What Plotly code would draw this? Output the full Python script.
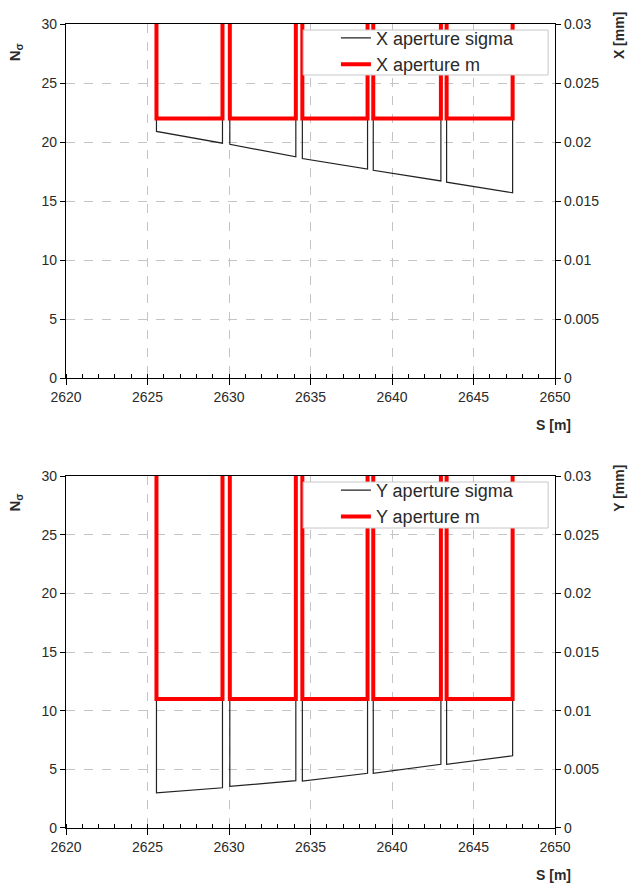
import plotly.graph_objects as go

# ---------------- data ----------------
s_start = [2625.55, 2630.05, 2634.5, 2638.85, 2643.35]
s_end = [2629.6, 2634.1, 2638.5, 2643.0, 2647.4]

x_sigma_start = [20.9, 19.8, 18.6, 17.6, 16.6]
x_sigma_end = [19.9, 18.75, 17.7, 16.7, 15.7]
x_aperture_m = [0.022, 0.022, 0.022, 0.022, 0.022]

y_sigma_start = [3.0, 3.55, 4.0, 4.66, 5.43]
y_sigma_end = [3.43, 4.03, 4.66, 5.43, 6.16]
y_aperture_m = [0.011, 0.011, 0.011, 0.011, 0.011]

sigma_offscale = 40      # value beyond the plotted range between elements
m_offscale = 0.04

x_ticks = [2620, 2625, 2630, 2635, 2640, 2645, 2650]


def seg_path(starts, ends, v0, v1, top):
    xs, ys = [], []
    for a, b, c, d in zip(starts, ends, v0, v1):
        xs += [a, a, b, b]
        ys += [top, c, d, top]
    return xs, ys


FONT = "Liberation Sans, Arial, sans-serif"
TXT = "#2a2a2a"
GRID = "#c4c4c4"

fig = go.Figure()

# top panel
xs, ys = seg_path(s_start, s_end, x_sigma_start, x_sigma_end, sigma_offscale)
fig.add_trace(go.Scatter(x=xs, y=ys, mode="lines", name="X aperture sigma",
                         line=dict(color="#222222", width=1.2),
                         xaxis="x", yaxis="y", legend="legend"))
xs, ys = seg_path(s_start, s_end, x_aperture_m, x_aperture_m, m_offscale)
fig.add_trace(go.Scatter(x=xs, y=ys, mode="lines", name="X aperture m",
                         line=dict(color="#ff0000", width=4),
                         xaxis="x", yaxis="y2", legend="legend"))

# bottom panel
xs, ys = seg_path(s_start, s_end, y_sigma_start, y_sigma_end, sigma_offscale)
fig.add_trace(go.Scatter(x=xs, y=ys, mode="lines", name="Y aperture sigma",
                         line=dict(color="#222222", width=1.2),
                         xaxis="x2", yaxis="y3", legend="legend2"))
xs, ys = seg_path(s_start, s_end, y_aperture_m, y_aperture_m, m_offscale)
fig.add_trace(go.Scatter(x=xs, y=ys, mode="lines", name="Y aperture m",
                         line=dict(color="#ff0000", width=4),
                         xaxis="x2", yaxis="y4", legend="legend2"))

top_dom = [0.5597, 1.0]
bot_dom = [0.0, 0.4378]

xcommon = dict(range=[2620, 2650], tickvals=x_ticks, showline=True, linecolor="black",
               linewidth=1.3, mirror=True, ticks="outside", ticklen=6, tickcolor="black",
               showgrid=True, gridcolor=GRID, griddash="dash", gridwidth=1,
               minor=dict(ticks="inside", dtick=1, ticklen=4, tickcolor="black", showgrid=False),
               zeroline=False, tickfont=dict(size=14, color=TXT, family=FONT))
yleft = dict(range=[0, 30], dtick=5, showline=True, linecolor="black", linewidth=1.3,
             ticks="outside", ticklen=5, tickcolor="black", showgrid=True, gridcolor=GRID,
             griddash="dash", gridwidth=1, zeroline=False,
             tickfont=dict(size=14, color=TXT, family=FONT))
yright = dict(range=[0, 0.03], dtick=0.005, showline=True, linecolor="black", linewidth=1.3,
              ticks="outside", ticklen=5, tickcolor="black", showgrid=False, zeroline=False,
              side="right", tickfont=dict(size=14, color=TXT, family=FONT))

fig.update_layout(
    width=629, height=888,
    margin=dict(l=66, r=74, t=24, b=60),
    paper_bgcolor="white", plot_bgcolor="white",
    font=dict(family=FONT, color=TXT),
    xaxis=dict(xcommon, anchor="y", domain=[0, 1]),
    yaxis=dict(yleft, anchor="x", domain=top_dom),
    yaxis2=dict(yright, anchor="x", overlaying="y"),
    xaxis2=dict(xcommon, anchor="y3", domain=[0, 1]),
    yaxis3=dict(yleft, anchor="x2", domain=bot_dom),
    yaxis4=dict(yright, anchor="x2", overlaying="y3"),
    legend=dict(x=0.552, y=1.0055, xanchor="left", yanchor="top",
                bgcolor="rgba(0,0,0,0)", borderwidth=0,
                font=dict(size=18, color=TXT, family=FONT), tracegroupgap=0),
    legend2=dict(x=0.552, y=0.443, xanchor="left", yanchor="top",
                 bgcolor="rgba(0,0,0,0)", borderwidth=0,
                 font=dict(size=18, color=TXT, family=FONT), tracegroupgap=0),
    shapes=[
        dict(type="rect", xref="paper", yref="paper", x0=0.485, x1=0.986,
             y0=0.9366, y1=0.9925, fillcolor="white", line=dict(color="#c8c8c8", width=1),
             layer="above"),
        dict(type="rect", xref="paper", yref="paper", x0=0.485, x1=0.986,
             y0=0.3731, y1=0.4303, fillcolor="white", line=dict(color="#c8c8c8", width=1),
             layer="above"),
    ],
    annotations=[
        dict(text="<b>S [m]</b>", xref="paper", yref="paper", x=1.037, y=0.501,
             xanchor="right", yanchor="middle", showarrow=False,
             font=dict(size=14, color=TXT, family=FONT)),
        dict(text="<b>S [m]</b>", xref="paper", yref="paper", x=1.037, y=-0.058,
             xanchor="right", yanchor="middle", showarrow=False,
             font=dict(size=14, color=TXT, family=FONT)),
        dict(text="<b>N<sub>σ</sub></b>", xref="paper", yref="paper", x=-0.104, y=0.965,
             xanchor="center", yanchor="middle", textangle=-90, showarrow=False,
             font=dict(size=15, color=TXT, family=FONT)),
        dict(text="<b>N<sub>σ</sub></b>", xref="paper", yref="paper", x=-0.104, y=0.405,
             xanchor="center", yanchor="middle", textangle=-90, showarrow=False,
             font=dict(size=15, color=TXT, family=FONT)),
        dict(text="<b>X [mm]</b>", xref="paper", yref="paper", x=1.131, y=0.985,
             xanchor="center", yanchor="middle", textangle=-90, showarrow=False,
             font=dict(size=14, color=TXT, family=FONT)),
        dict(text="<b>Y [mm]</b>", xref="paper", yref="paper", x=1.131, y=0.422,
             xanchor="center", yanchor="middle", textangle=-90, showarrow=False,
             font=dict(size=14, color=TXT, family=FONT)),
    ],
)

fig.write_html("out.html", config={"displayModeBar": False},
               post_script="document.body.style.margin='0';document.body.style.overflow='hidden';")
